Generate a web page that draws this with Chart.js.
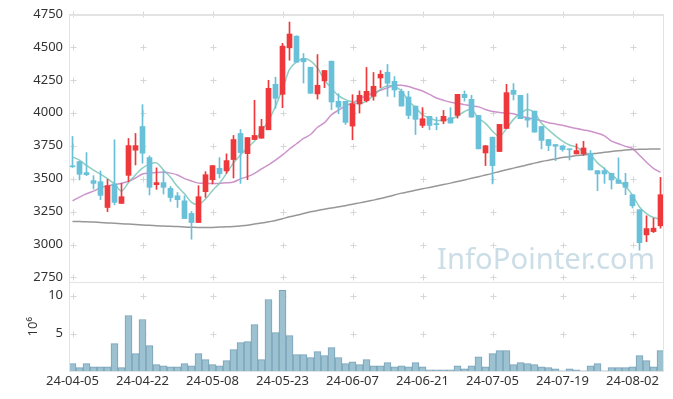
<!DOCTYPE html>
<html>
<head>
<meta charset="utf-8">
<script src="https://cdn.jsdelivr.net/npm/chart.js@4.4.1/dist/chart.umd.min.js"></script>
<style>
	html, body { margin: 0; padding: 0; background: #fff; }
</style>
</head>
<body>
<canvas id="chartCandle" width="673" height="399"></canvas>
<script>
'use strict'

// trading days shown on the x axis
const dates = [
	'24-04-05', '24-04-08', '24-04-09', '24-04-11', '24-04-12', '24-04-15', '24-04-16', '24-04-17', '24-04-18', '24-04-19',
	'24-04-22', '24-04-23', '24-04-24', '24-04-25', '24-04-26', '24-04-29', '24-04-30', '24-05-02', '24-05-03', '24-05-07',
	'24-05-08', '24-05-09', '24-05-10', '24-05-13', '24-05-14', '24-05-16', '24-05-17', '24-05-20', '24-05-21', '24-05-22',
	'24-05-23', '24-05-24', '24-05-27', '24-05-28', '24-05-29', '24-05-30', '24-05-31', '24-06-03', '24-06-04', '24-06-05',
	'24-06-07', '24-06-10', '24-06-11', '24-06-12', '24-06-13', '24-06-14', '24-06-17', '24-06-18', '24-06-19', '24-06-20',
	'24-06-21', '24-06-24', '24-06-25', '24-06-26', '24-06-27', '24-06-28', '24-07-01', '24-07-02', '24-07-03', '24-07-04',
	'24-07-05', '24-07-08', '24-07-09', '24-07-10', '24-07-11', '24-07-12', '24-07-15', '24-07-16', '24-07-17', '24-07-18',
	'24-07-19', '24-07-22', '24-07-23', '24-07-24', '24-07-25', '24-07-26', '24-07-29', '24-07-30', '24-07-31', '24-08-01',
	'24-08-02', '24-08-05', '24-08-06', '24-08-07', '24-08-08',
];

const opens = [
	3595, 3630, 3546, 3485, 3477, 3281, 3460, 3312, 3525, 3716,
	3896, 3660, 3454, 3470, 3426, 3370, 3332, 3236, 3167, 3401,
	3492, 3579, 3559, 3645, 3843, 3690, 3797, 3807, 3871, 4216,
	4140, 4493, 4582, 4412, 4346, 4143, 4242, 4392, 4087, 4087,
	3899, 4067, 4092, 4125, 4264, 4308, 4239, 4163, 4120, 4051,
	3904, 3973, 3917, 3937, 3963, 3980, 4140, 4102, 3980, 3695,
	3815, 3706, 3881, 4171, 4133, 3960, 4013, 3896, 3797, 3759,
	3749, 3726, 3688, 3688, 3693, 3561, 3561, 3541, 3490, 3472,
	3378, 3264, 3073, 3098, 3142,
];
const highs = [
	3820, 3632, 3698, 3523, 3558, 3495, 3795, 3464, 3805, 3843,
	4062, 3673, 3582, 3561, 3441, 3395, 3370, 3251, 3447, 3553,
	3599, 3660, 3688, 3828, 3873, 3812, 4095, 3950, 4247, 4270,
	4527, 4689, 4585, 4450, 4346, 4442, 4321, 4392, 4145, 4087,
	4137, 4166, 4344, 4306, 4321, 4367, 4275, 4180, 4163, 4051,
	4039, 3973, 3967, 4018, 4039, 4140, 4166, 4133, 3980, 3752,
	3815, 3912, 4216, 4222, 4133, 4145, 4013, 3896, 3797, 3759,
	3749, 3726, 3764, 3784, 3713, 3561, 3582, 3541, 3658, 3541,
	3378, 3264, 3218, 3200, 3510,
];
const lows = [
	3585, 3490, 3523, 3421, 3340, 3250, 3302, 3312, 3477, 3604,
	3617, 3376, 3419, 3383, 3327, 3281, 3197, 3040, 3167, 3358,
	3460, 3505, 3541, 3505, 3464, 3492, 3797, 3807, 3871, 4034,
	4039, 4399, 4384, 4226, 4148, 4104, 4191, 4024, 3993, 3912,
	3795, 3998, 4082, 4095, 4191, 4125, 4120, 4051, 3955, 3835,
	3888, 3871, 3871, 3917, 3922, 3960, 4089, 3967, 3726, 3599,
	3460, 3706, 3881, 4097, 3955, 3891, 3853, 3726, 3713, 3637,
	3708, 3642, 3688, 3678, 3566, 3409, 3464, 3421, 3464, 3378,
	3277, 2957, 3022, 3091, 3124,
];
const closes = [
	3590, 3533, 3530, 3464, 3373, 3447, 3320, 3363, 3751, 3751,
	3693, 3434, 3470, 3434, 3357, 3340, 3197, 3167, 3363, 3530,
	3599, 3538, 3637, 3797, 3698, 3812, 3828, 3896, 4186, 4110,
	4506, 4598, 4384, 4387, 4148, 4209, 4321, 4082, 4043, 3927,
	4069, 4133, 4163, 4201, 4293, 4224, 4173, 4051, 3980, 3950,
	3955, 3904, 3910, 3973, 3922, 4140, 4115, 3967, 3726, 3750,
	3599, 3912, 4153, 4140, 3955, 3944, 3853, 3790, 3751, 3746,
	3721, 3719, 3713, 3733, 3566, 3536, 3536, 3490, 3464, 3434,
	3294, 3014, 3121, 3124, 3378,
];

// moving averages as drawn on the chart
const maShort = [
	3665, 3640, 3600, 3565, 3535, 3500, 3460, 3405, 3470, 3530,
	3580, 3610, 3620, 3565, 3510, 3440, 3385, 3320, 3305, 3345,
	3410, 3465, 3540, 3620, 3680, 3735, 3785, 3860, 3940, 4050,
	4180, 4330, 4387, 4410, 4395, 4340, 4250, 4185, 4130, 4100,
	4082, 4068, 4090, 4130, 4180, 4205, 4200, 4165, 4090, 4040,
	3985, 3960, 3942, 3945, 3952, 3975, 4010, 4025, 3958, 3920,
	3860, 3820, 3880, 3950, 3995, 4025, 4000, 3920, 3870, 3825,
	3785, 3755, 3740, 3705, 3680, 3620, 3575, 3530, 3485, 3440,
	3375, 3285, 3235, 3205, 3193,
];
const maMid = [
	3332, 3360, 3385, 3405, 3430, 3445, 3455, 3465, 3480, 3505,
	3535, 3542, 3547, 3548, 3542, 3528, 3500, 3482, 3466, 3464,
	3463, 3464, 3468, 3475, 3498, 3515, 3540, 3575, 3605, 3640,
	3680, 3725, 3765, 3805, 3835, 3890, 3925, 3985, 4020, 4052,
	4075, 4105, 4130, 4150, 4170, 4190, 4207, 4209, 4200, 4182,
	4165, 4140, 4112, 4095, 4080, 4072, 4062, 4052, 4045, 4025,
	4010, 4003, 3998, 3993, 3975, 3962, 3953, 3940, 3925, 3915,
	3905, 3892, 3880, 3870, 3860, 3845, 3825, 3785, 3765, 3745,
	3728, 3678, 3625, 3578, 3548,
];
const maLong = [
	3175, 3174, 3172, 3170, 3167, 3164, 3161, 3158, 3155, 3151,
	3148, 3146, 3143, 3140, 3138, 3136, 3133, 3131, 3129, 3129,
	3130, 3132, 3134, 3137, 3141, 3146, 3155, 3163, 3172, 3182,
	3196, 3210, 3222, 3235, 3248, 3258, 3268, 3277, 3286, 3295,
	3306, 3316, 3326, 3337, 3349, 3362, 3376, 3390, 3400, 3412,
	3423, 3433, 3444, 3455, 3466, 3478, 3490, 3503, 3515, 3527,
	3540, 3555, 3568, 3580, 3592, 3605, 3618, 3630, 3640, 3650,
	3660, 3667, 3675, 3680, 3688, 3693, 3700, 3706, 3712, 3717,
	3721, 3723, 3724, 3725, 3726,
];

// volume in millions of shares
const volumes = [
	1.02, 0.49, 1.02, 0.62, 0.62, 0.62, 3.67, 0.49, 7.38, 2.34,
	6.85, 3.40, 0.89, 0.75, 0.62, 0.62, 1.02, 0.75, 2.34, 1.55,
	0.89, 0.75, 1.42, 2.87, 3.80, 3.93, 6.18, 1.55, 9.50, 5.12,
	10.69, 4.72, 2.21, 2.21, 1.81, 2.61, 2.08, 3.14, 1.81, 1.02,
	1.28, 0.89, 1.55, 0.75, 0.75, 1.15, 0.62, 0.75, 0.62, 1.15,
	0.62, 0.22, 0.22, 0.22, 0.22, 0.75, 0.35, 0.75, 1.94, 0.62,
	2.34, 2.74, 2.74, 0.89, 1.15, 1.02, 0.89, 0.62, 0.49, 0.35,
	0.09, 0.35, 0.22, 0.09, 0.75, 1.02, 0.09, 0.49, 0.49, 0.49,
	0.62, 2.08, 1.42, 0.62, 2.74,
];

const priceTicks = [2750, 3000, 3250, 3500, 3750, 4000, 4250, 4500, 4750];
const volumeTicks = [5, 10];

const colors = {
	up: '#ee383b',
	down: '#69c0d9',
	maShort: 'rgba(120, 198, 182, 0.85)',
	maMid: 'rgba(196, 128, 194, 0.85)',
	maLong: 'rgba(140, 140, 140, 0.9)',
	volume: 'rgb(156, 193, 209)',
	volumeBorder: 'rgb(120, 162, 184)',
	text: '#333333',
	frame: '#e3e3e3',
	mark: '#d6d6d6',
	watermark: 'rgba(140, 180, 200, 0.45)',
};

const font = { family: 'Noto Sans', size: 13 };

let candleColor = function(ctx) {
	let i = ctx.dataIndex;
	return closes[i] >= opens[i] ? colors.up : colors.down;
};

// pane frames, "+" grid marks and the watermark
const paneDecor = {
	id: 'paneDecor',
	beforeDatasetsDraw(chart) {
		const { ctx, chartArea, scales } = chart;
		ctx.save();

		// watermark
		ctx.font = '30px "Noto Sans"';
		let w = ctx.measureText('InfoPointer.com').width;
		let size = 30 * 218 / w;
		ctx.font = size + 'px "Noto Sans"';
		ctx.fillStyle = colors.watermark;
		ctx.textAlign = 'right';
		ctx.textBaseline = 'alphabetic';
		ctx.fillText('InfoPointer.com', chartArea.right - 9, scales.y.bottom - 13);

		// plus marks
		ctx.strokeStyle = colors.mark;
		ctx.lineWidth = 1;
		let ys = priceTicks.map(v => scales.y.getPixelForValue(v))
			.concat(volumeTicks.map(v => scales.yVol.getPixelForValue(v)));
		ctx.beginPath();
		dates.forEach((d, i) => {
			if (i % 10 !== 0) return;
			let x = Math.round(scales.x.getPixelForValue(i)) + 0.5;
			ys.forEach(yy => {
				let y = Math.round(yy) + 0.5;
				ctx.moveTo(x - 3, y);
				ctx.lineTo(x + 3, y);
				ctx.moveTo(x, y - 3);
				ctx.lineTo(x, y + 3);
			});
		});
		ctx.stroke();
		ctx.restore();
	},
	afterDatasetsDraw(chart) {
		const { ctx, chartArea, scales } = chart;
		ctx.save();
		ctx.strokeStyle = colors.frame;
		ctx.lineWidth = 1;
		let l = Math.round(chartArea.left) + 0.5;
		let r = Math.round(chartArea.right) - 0.5;
		[scales.y, scales.yVol].forEach(s => {
			ctx.strokeRect(l, Math.round(s.top) + 0.5, r - l, Math.round(s.bottom) - Math.round(s.top));
		});
		ctx.lineWidth = 2;
		ctx.beginPath();
		ctx.moveTo(l, Math.round(scales.y.top) + 1);
		ctx.lineTo(r, Math.round(scales.y.top) + 1);
		ctx.stroke();
		ctx.restore();
	},
};

let chartCandle = new Chart(document.getElementById('chartCandle'), {
	type: 'bar',
	data: {
		labels: dates,
		datasets: [
			{
				label: 'MA short',
				type: 'line',
				data: maShort,
				yAxisID: 'y',
				borderColor: colors.maShort,
				borderWidth: 1.5,
				pointRadius: 0,
				tension: 0.3,
				order: 5,
			},
			{
				label: 'MA mid',
				type: 'line',
				data: maMid,
				yAxisID: 'y',
				borderColor: colors.maMid,
				borderWidth: 1.5,
				pointRadius: 0,
				tension: 0.3,
				order: 6,
			},
			{
				label: 'MA long',
				type: 'line',
				data: maLong,
				yAxisID: 'y',
				borderColor: colors.maLong,
				borderWidth: 1.5,
				pointRadius: 0,
				tension: 0.3,
				order: 7,
			},
			{
				label: 'wick',
				data: lows.map((l, i) => [l, highs[i]]),
				yAxisID: 'y',
				grouped: false,
				barThickness: 1,
				backgroundColor: candleColor,
				borderWidth: 0,
				order: 2,
			},
			{
				label: 'body',
				data: opens.map((o, i) => [o, closes[i]]),
				yAxisID: 'y',
				grouped: false,
				barThickness: 5,
				minBarLength: 1,
				backgroundColor: candleColor,
				borderWidth: 0,
				order: 1,
			},
			{
				label: 'volume',
				data: volumes,
				yAxisID: 'yVol',
				grouped: false,
				barPercentage: 1,
				categoryPercentage: 1,
				backgroundColor: colors.volume,
				borderColor: colors.volumeBorder,
				borderWidth: 1,
				order: 3,
			},
		],
	},
	options: {
		responsive: false,
		animation: false,
		events: [],
		layout: {
			padding: { left: 0, right: 9, top: 14, bottom: 8 },
		},
		plugins: {
			legend: { display: false },
			tooltip: { enabled: false },
		},
		scales: {
			x: {
				type: 'category',
				offset: true,
				grid: { display: false, drawTicks: false },
				border: { display: false },
				ticks: {
					autoSkip: false,
					maxRotation: 0,
					padding: 2,
					color: colors.text,
					font: font,
					callback: function(value, index) {
						return index % 10 === 0 ? dates[index] : null;
					},
				},
			},
			// left boxes are laid out in reverse, so the volume pane comes first
			yVol: {
				type: 'linear',
				position: 'left',
				stack: 'panes',
				stackWeight: 1,
				min: 0,
				max: 11.8,
				afterBuildTicks: (scale) => { scale.ticks = volumeTicks.map(v => ({ value: v })) },
				afterFit: (scale) => { scale.width = 69 },
				grid: { display: false, drawTicks: false },
				border: { display: false },
				ticks: {
					autoSkip: false,
					padding: 6,
					color: colors.text,
					font: font,
					callback: (v) => String(v),
				},
				title: {
					display: true,
					text: '10⁶',
					color: colors.text,
					font: font,
					padding: { top: 25, bottom: 0 },
				},
			},
			y: {
				type: 'linear',
				position: 'left',
				stack: 'panes',
				stackWeight: 3,
				min: 2715,
				max: 4750,
				afterBuildTicks: (scale) => { scale.ticks = priceTicks.map(v => ({ value: v })) },
				afterFit: (scale) => { scale.width = 69 },
				grid: { display: false, drawTicks: false },
				border: { display: false },
				ticks: {
					autoSkip: false,
					padding: 6,
					color: colors.text,
					font: font,
					callback: (v) => String(v),
				},
			},
		},
	},
	plugins: [paneDecor],
});
</script>
</body>
</html>
